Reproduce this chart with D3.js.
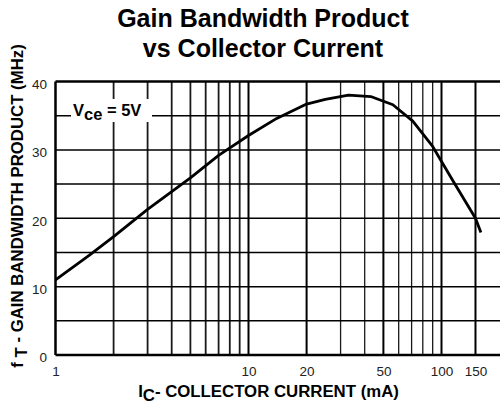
<!DOCTYPE html>
<html>
<head>
<meta charset="utf-8">
<script src="https://cdn.jsdelivr.net/npm/d3@7"></script>
<style>
  body { margin: 0; background: #fff; }
  text { font-family: "Liberation Sans", Arial, sans-serif; }
</style>
</head>
<body>
<div class="chart"></div>
<script>
// data
var collectorCurrent = [1, 1.5, 2, 3, 5, 7, 10, 14, 20, 25, 33, 43, 56, 71, 90, 115, 150, 160];
var gainBandwidth = [11, 14.6, 17.3, 21.3, 25.9, 29.2, 32.1, 34.6, 36.7, 37.4, 38.0, 37.8, 36.6, 34.2, 30.5, 25.4, 20.0, 17.9];

var xGridValues = [1, 2, 3, 4, 5, 6, 7, 8, 9, 10, 20, 30, 40, 50, 60, 70, 80, 90, 100, 150];
var xMajor = [1, 10, 20, 50, 100, 150];
var xTickLabels = [1, 10, 20, 50, 100, 150];
var yGridValues = [0, 5, 10, 15, 20, 25, 30, 35, 40];
var yTickLabels = [0, 10, 20, 30, 40];

var svgWidth = 500;
var svgHeight = 408;

var svg = d3.select(".chart")
  .append("svg")
  .attr("width", svgWidth)
  .attr("height", svgHeight);

// log scale, one decade is about 193px
var decade = 193;
var xScale = d3.scaleLog()
  .domain([1, 210])
  .range([55.5, 55.5 + decade * Math.log10(210)]);

var yScale = d3.scaleLinear()
  .domain([0, 40])
  .range([355, 81.5]);

// grid
var grid = svg.append("g");

grid.selectAll(".vline")
  .data(xGridValues)
  .enter()
  .append("line")
  .attr("x1", d => xScale(d))
  .attr("x2", d => xScale(d))
  .attr("y1", yScale(40))
  .attr("y2", yScale(0))
  .attr("stroke", d => xMajor.indexOf(d) >= 0 ? "#000" : "#1a1a1a")
  .attr("stroke-width", d => d == 1 ? 2.5 : (xMajor.indexOf(d) >= 0 ? 2 : (d < 10 ? 1.8 : 1.3)));

grid.selectAll(".hline")
  .data(yGridValues)
  .enter()
  .append("line")
  .attr("x1", xScale(1))
  .attr("x2", svgWidth + 5)
  .attr("y1", d => yScale(d))
  .attr("y2", d => yScale(d))
  .attr("stroke", "#000")
  .attr("stroke-width", d => (d == 0 || d == 40) ? 2.5 : 1.5);

// Vce box
var note = svg.append("g");
note.append("rect")
  .attr("x", 71)
  .attr("y", 99)
  .attr("width", 81)
  .attr("height", 23)
  .attr("fill", "#fff");
var noteText = note.append("text")
  .attr("x", 73)
  .attr("y", 115.5)
  .attr("font-size", "16.5px")
  .attr("font-weight", "bold")
  .attr("fill", "#000");
noteText.append("tspan").text("V");
noteText.append("tspan").attr("dy", 4).text("ce");
noteText.append("tspan").attr("dy", -4).text(" = 5V");

// curve
var line = d3.line()
  .x((d, i) => xScale(collectorCurrent[i]))
  .y(d => yScale(d));

svg.append("path")
  .datum(gainBandwidth)
  .attr("d", line)
  .attr("fill", "none")
  .attr("stroke", "#000")
  .attr("stroke-width", 2.8)
  .attr("stroke-linejoin", "round");

// axes labels (ticks)
var bottomAxis = d3.axisBottom(xScale)
  .tickValues(xTickLabels)
  .tickFormat(d3.format("d"))
  .tickSize(0)
  .tickPadding(0);

var xAxisG = svg.append("g")
  .attr("transform", "translate(0, 366)")
  .call(bottomAxis);
xAxisG.select(".domain").remove();
xAxisG.selectAll("text")
  .attr("dy", "0.71em")
  .attr("font-size", "13.5px")
  .attr("font-family", "Liberation Sans, Arial, sans-serif")
  .attr("fill", "#222");

var leftAxis = d3.axisLeft(yScale)
  .tickValues(yTickLabels)
  .tickSize(0)
  .tickPadding(0);

var yAxisG = svg.append("g")
  .attr("transform", "translate(47, 2.6)")
  .call(leftAxis);
yAxisG.select(".domain").remove();
yAxisG.selectAll("text")
  .attr("font-size", "13.5px")
  .attr("font-family", "Liberation Sans, Arial, sans-serif")
  .attr("fill", "#222");

// title
svg.append("text")
  .attr("x", 263)
  .attr("y", 26.5)
  .attr("text-anchor", "middle")
  .attr("font-size", "25px")
  .attr("font-weight", "bold")
  .text("Gain Bandwidth Product");

svg.append("text")
  .attr("x", 263)
  .attr("y", 57)
  .attr("text-anchor", "middle")
  .attr("font-size", "25px")
  .attr("font-weight", "bold")
  .text("vs Collector Current");

// x label
var xLabel = svg.append("text")
  .attr("x", 268.5)
  .attr("y", 396.5)
  .attr("text-anchor", "middle")
  .attr("font-size", "16.8px")
  .attr("font-weight", "bold");
xLabel.append("tspan").text("I");
xLabel.append("tspan").attr("dy", 4).text("C");
xLabel.append("tspan").attr("dy", -4).text("- COLLECTOR CURRENT (mA)");

// y label
var yLabel = svg.append("text")
  .attr("transform", "translate(22.5, 206) rotate(-90)")
  .attr("text-anchor", "middle")
  .attr("font-size", "16.8px")
  .attr("font-weight", "bold");
yLabel.append("tspan").text("f");
yLabel.append("tspan").attr("dy", 4).text(" T");
yLabel.append("tspan").attr("dy", -4).text(" - GAIN BANDWIDTH PRODUCT (MHz)");
</script>
</body>
</html>
